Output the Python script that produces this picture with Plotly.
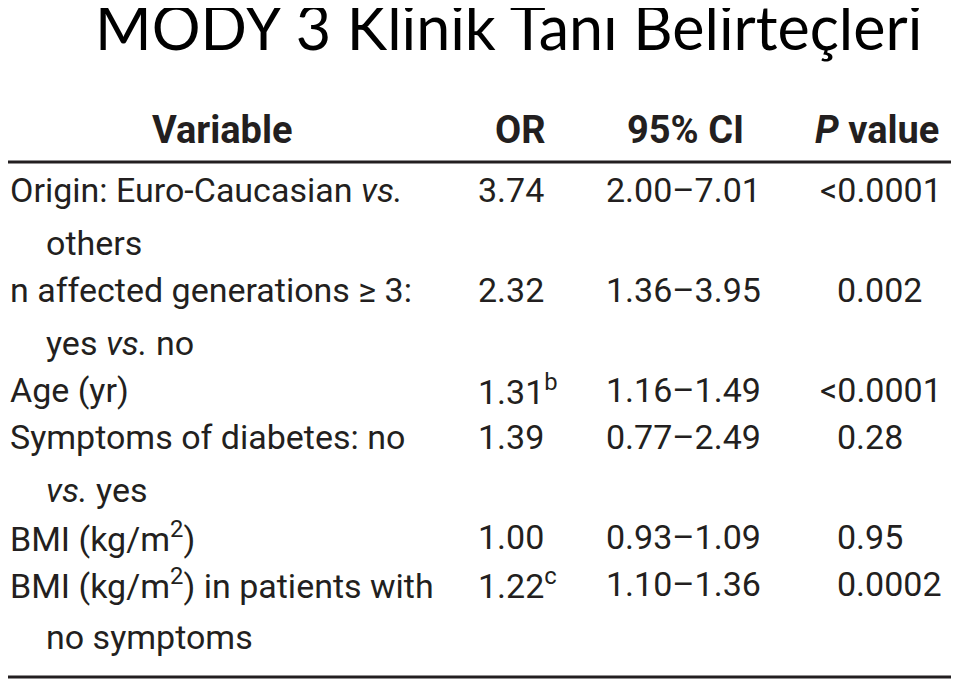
import plotly.graph_objects as go

title = "MODY 3 Klinik Tanı Belirteçleri"
headers = ["Variable", "OR", "95% CI", "<i>P</i> value"]

# each variable may wrap onto a second line
variables = [
    ["Origin: Euro-Caucasian <i>vs.</i>", "others"],
    ["n affected generations ≥ 3:", "yes <i>vs.</i> no"],
    ["Age (yr)"],
    ["Symptoms of diabetes: no", "<i>vs.</i> yes"],
    ["BMI (kg/m<sup>2</sup>)"],
    ["BMI (kg/m<sup>2</sup>) in patients with", "no symptoms"],
]
odds_ratio = ["3.74", "2.32", "1.31<sup>b</sup>", "1.39", "1.00", "1.22<sup>c</sup>"]
conf_int = ["2.00–7.01", "1.36–3.95", "1.16–1.49", "0.77–2.49", "0.93–1.09", "1.10–1.36"]
p_value = ["<0.0001", "0.002", "<0.0001", "0.28", "0.95", "0.0002"]

W, H = 959, 681
PAD = 8  # page body margin around the plot div
ink = "#231f20"
tfont = "Roboto, DejaVu Sans"
body = dict(family=tfont, size=34, color=ink)

fig = go.Figure()
ann = []

ann.append(dict(x=93, y=26, text=title, xanchor="left", yanchor="middle",
                font=dict(family="Lato, Open Sans", size=61, color="black")))

head_y = 130
head_x = [222, 520, 685, 877]
for hx, h in zip(head_x, headers):
    ann.append(dict(x=hx, y=head_y, text="<b>" + h + "</b>", xanchor="center", yanchor="middle",
                    font=dict(family=tfont, size=38, color=ink)))

row_gap = 47
wrap_gap = 53
y = 190
for i, lines in enumerate(variables):
    for j, line in enumerate(lines):
        ann.append(dict(x=8 if j == 0 else 44, y=y + j * wrap_gap, text=line,
                        xanchor="left", yanchor="middle", font=body))
    ann.append(dict(x=476, y=y, text=odds_ratio[i], xanchor="left", yanchor="middle", font=body))
    ann.append(dict(x=683, y=y, text=conf_int[i], xanchor="center", yanchor="middle", font=body))
    pv = p_value[i].replace("<", "&lt;")
    if p_value[i].startswith("<"):
        ann.append(dict(x=944, y=y, text=pv, xanchor="right", yanchor="middle", font=body))
    else:
        ann.append(dict(x=835, y=y, text=pv, xanchor="left", yanchor="middle", font=body))
    y += row_gap + (len(lines) - 1) * wrap_gap

for a in ann:
    a.update(xref="x", yref="y", showarrow=False)

fig.update_layout(
    width=W - PAD, height=H - PAD,
    margin=dict(l=0, r=0, t=0, b=0),
    paper_bgcolor="white", plot_bgcolor="white",
    xaxis=dict(range=[PAD, W], visible=False, fixedrange=True),
    yaxis=dict(range=[H, PAD], visible=False, fixedrange=True),
    annotations=ann,
    shapes=[
        dict(type="line", x0=0, x1=957, y0=162, y1=162, line=dict(color=ink, width=3)),
        dict(type="line", x0=0, x1=957, y0=677, y1=677, line=dict(color=ink, width=3)),
    ],
    showlegend=False,
)

fig.write_html("out.html")
